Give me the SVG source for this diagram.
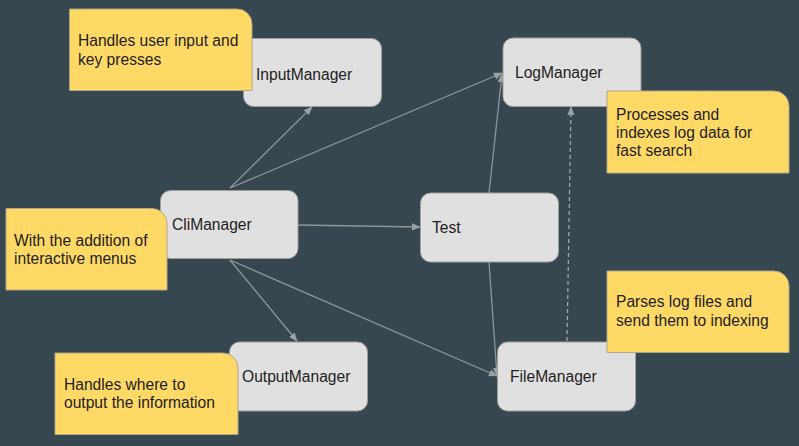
<svg xmlns="http://www.w3.org/2000/svg" width="799" height="446" viewBox="0 0 799 446">
<defs>
<marker id="ah" viewBox="0 0 10 10" refX="9" refY="5" markerWidth="9" markerHeight="9" markerUnits="userSpaceOnUse" orient="auto">
<path d="M0,1 L10,5 L0,9 Z" fill="#9aa0a3"/>
</marker>
<style>
.node rect{fill:#e0e0e0;stroke:#9e9e9e;stroke-width:1}
.note path{fill:#ffd966;stroke:#b0a78a;stroke-width:1}
text{font-family:"Liberation Sans",Arial,sans-serif;font-size:15.6px;fill:#222}
.edge{stroke:#8f979b;stroke-width:1.3;fill:none;marker-end:url(#ah)}
.dash{stroke-dasharray:4 3;stroke:#a0a6a9}
</style>
</defs>
<rect width="799" height="446" fill="#37474f"/>
<g id="connectors">
<line class="edge" x1="230" y1="188" x2="312" y2="107"/>
<line class="edge" x1="230" y1="188" x2="502" y2="73"/>
<line class="edge" x1="489" y1="193" x2="502" y2="74"/>
<line class="edge" x1="298" y1="225" x2="420" y2="227"/>
<line class="edge" x1="230" y1="260" x2="297" y2="341"/>
<line class="edge" x1="230" y1="260" x2="497" y2="376"/>
<line class="edge" x1="489" y1="262" x2="497" y2="376"/>
<line class="edge dash" x1="567" y1="341" x2="571" y2="107"/>
</g>
<g id="InputManager" class="node"><rect x="243.5" y="38.5" width="138" height="68" rx="10"/><text x="256" y="80">InputManager</text></g>
<g id="LogManager" class="node"><rect x="503" y="38" width="138" height="68.5" rx="10"/><text x="515" y="78">LogManager</text></g>
<g id="CliManager" class="node"><rect x="160.5" y="190.5" width="137.5" height="68" rx="10"/><text x="172" y="230">CliManager</text></g>
<g id="Test" class="node"><rect x="420.5" y="193" width="138" height="69" rx="10"/><text x="432" y="233">Test</text></g>
<g id="OutputManager" class="node"><rect x="229.5" y="342" width="138" height="69" rx="10"/><text x="242" y="382">OutputManager</text></g>
<g id="FileManager" class="node"><rect x="497.5" y="342" width="138" height="69" rx="10"/><text x="510" y="382">FileManager</text></g>
<g id="note-input" class="note"><path d="M69.5,9 H237 A15,15 0 0 1 252,24 V90.5 H69.5 Z"/><text x="78"><tspan x="78" y="46">Handles user input and</tspan><tspan x="78" y="64.5">key presses</tspan></text></g>
<g id="note-log" class="note"><path d="M607,91 H774 A15,15 0 0 1 789,106 V173 H607 Z"/><text><tspan x="616" y="119.5">Processes and</tspan><tspan x="616" y="137.5">indexes log data for</tspan><tspan x="616" y="155.5">fast search</tspan></text></g>
<g id="note-cli" class="note"><path d="M6,208.5 H152 A15,15 0 0 1 167,223.5 V290 H6 Z"/><text><tspan x="14" y="246">With the addition of</tspan><tspan x="14" y="263.5">interactive menus</tspan></text></g>
<g id="note-output" class="note"><path d="M55,353 H223 A15,15 0 0 1 238,368 V434.5 H55 Z"/><text><tspan x="64" y="389.5">Handles where to</tspan><tspan x="64" y="407.5">output the information</tspan></text></g>
<g id="note-file" class="note"><path d="M607,271 H774 A15,15 0 0 1 789,286 V352.5 H607 Z"/><text><tspan x="616" y="307">Parses log files and</tspan><tspan x="616" y="326">send them to indexing</tspan></text></g>
</svg>
